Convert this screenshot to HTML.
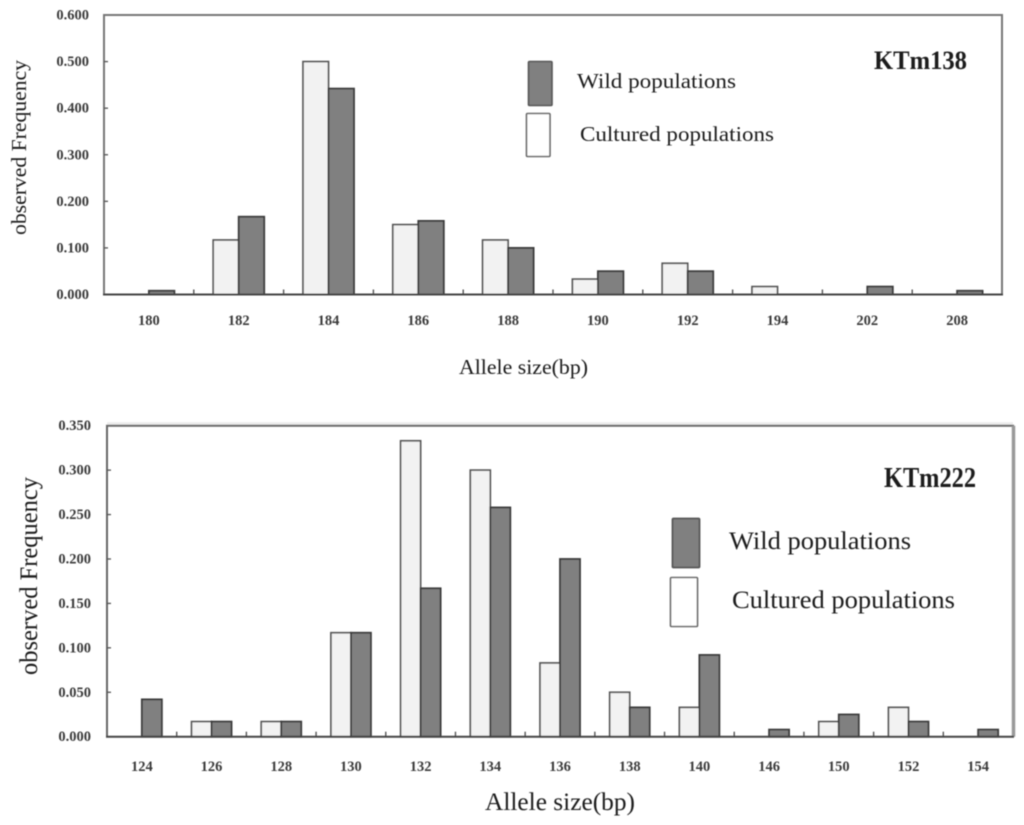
<!DOCTYPE html>
<html>
<head>
<meta charset="utf-8">
<title>Allele frequency charts</title>
<style>
html,body{margin:0;padding:0;background:#fff;width:1024px;height:825px;overflow:hidden}
svg{display:block;position:absolute;left:0;top:0}
text{font-family:"Liberation Serif",serif;fill:#222}
.tick{font-weight:bold;font-size:14.5px;fill:#3a3a3a}
.title{font-size:21.5px;fill:#1c1c1c}
.leg{font-size:21.5px;fill:#1c1c1c}
.big{font-size:25px}
.name{font-weight:bold;fill:#1c1c1c}
</style>
</head>
<body>
<svg id="fig" width="1024" height="825" viewBox="0 0 1024 825" xmlns="http://www.w3.org/2000/svg">
  <defs>
    <filter id="soft" x="-5%" y="-5%" width="110%" height="110%"><feGaussianBlur stdDeviation="0.45"/></filter>
    <filter id="soft2" x="-5%" y="-5%" width="110%" height="110%"><feGaussianBlur stdDeviation="0.6"/></filter>
  </defs>
  <g id="chart1" filter="url(#soft)">
    <text class="name" x="874" y="69" font-size="26" textLength="93" lengthAdjust="spacingAndGlyphs">KTm138</text>
    <rect x="528.5" y="61.5" width="23.5" height="44" rx="1" fill="#808080" stroke="#555" stroke-width="1.6"/>
    <rect x="526.5" y="113.5" width="23.5" height="43" rx="1" fill="#fff" stroke="#666" stroke-width="1.6"/>
    <text class="leg" x="577" y="88" textLength="159" lengthAdjust="spacingAndGlyphs">Wild populations</text>
    <text class="leg" x="580" y="141" textLength="194" lengthAdjust="spacingAndGlyphs">Cultured populations</text>
    <text class="title" x="459" y="374" textLength="129" lengthAdjust="spacingAndGlyphs">Allele size(bp)</text>
    <text class="title" transform="translate(26,235) rotate(-90)" textLength="175" lengthAdjust="spacingAndGlyphs">observed Frequency</text>
  </g>
  <g id="chart2" filter="url(#soft2)">
    <text class="name" x="884" y="487" font-size="29" textLength="92" lengthAdjust="spacingAndGlyphs">KTm222</text>
    <rect x="672.5" y="518.5" width="27" height="49" rx="1" fill="#808080" stroke="#555" stroke-width="1.8"/>
    <rect x="670.5" y="577.5" width="27" height="49" rx="1" fill="#fff" stroke="#666" stroke-width="1.6"/>
    <text class="leg big" x="729" y="549" textLength="182" lengthAdjust="spacingAndGlyphs">Wild populations</text>
    <text class="leg big" x="732" y="608" textLength="223" lengthAdjust="spacingAndGlyphs">Cultured populations</text>
    <text class="title big" x="485" y="810" textLength="150" lengthAdjust="spacingAndGlyphs">Allele size(bp)</text>
    <text class="title big" transform="translate(37,675) rotate(-90)" textLength="198" lengthAdjust="spacingAndGlyphs">observed Frequency</text>
  </g>
</svg>
<script>
var ktm138Categories = ["180","182","184","186","188","190","192","194","202","208"];
var ktm138Cultured = [0, 0.117, 0.5, 0.15, 0.117, 0.033, 0.067, 0.017, 0, 0];
var ktm138Wild = [0.008, 0.167, 0.442, 0.158, 0.1, 0.05, 0.05, 0, 0.017, 0.008];
var ktm138Ticks = ["0.000","0.100","0.200","0.300","0.400","0.500","0.600"];

var ktm222Categories = ["124","126","128","130","132","134","136","138","140","146","150","152","154"];
var ktm222Cultured = [0, 0.017, 0.017, 0.117, 0.333, 0.3, 0.083, 0.05, 0.033, 0, 0.017, 0.033, 0];
var ktm222Wild = [0.042, 0.017, 0.017, 0.117, 0.167, 0.258, 0.2, 0.033, 0.092, 0.008, 0.025, 0.017, 0.008];
var ktm222Ticks = ["0.000","0.050","0.100","0.150","0.200","0.250","0.300","0.350"];

var SVGNS = "http://www.w3.org/2000/svg";

function shape(parent, tag, props) {
  var el = document.createElementNS(SVGNS, tag);
  for (var k in props) {
    el.setAttribute(k, props[k]);
  }
  parent.appendChild(el);
  return el;
}

function drawChart(parent, cats, cultured, wild, ticks, o) {
  var band = (o.right - o.left) / cats.length;
  var yMax = parseFloat(ticks[ticks.length - 1]);
  function xBand(i) { return o.left + band * (i + 0.5); }
  function yVal(v) { return o.bottom - (v / yMax) * (o.bottom - o.top); }

  if (o.halo) {
    var halo = shape(parent, "rect", {x: o.left, y: o.top - 3.5, width: o.right - o.left, height: 3.5, fill: "#ececec"});
    
    
  }

  var frame = shape(parent, "path", {
    d: "M" + o.left + " " + o.bottom + "V" + o.top + "H" + o.right + "V" + o.bottom,
    fill: "none", stroke: o.frameColor, "stroke-width": 2
  });
  
  

  if (o.rightThick) {
    var rb = shape(parent, "line", {x1: o.right + 0.5, x2: o.right + 0.5, y1: o.top, y2: o.bottom, stroke: "#999", "stroke-width": 3.5});
    
    
  }

  ticks.forEach(function (t, i) {
    var y = yVal(parseFloat(t));
    var lab = shape(parent, "text", {x: o.left - o.labelGap, y: y + 4.5, "text-anchor": "end", "class": "tick"});
    lab.textContent = t;
    
    
    if (i > 0 && i < ticks.length - 1) {
      var tk = shape(parent, "line", {x1: o.left, x2: o.left + 4, y1: y, y2: y, stroke: "#555", "stroke-width": 1.3});
      
      
    }
  });

  cats.forEach(function (c, i) {
    var cx = xBand(i);
    if (i > 0) {
      var tk = shape(parent, "line", {x1: o.left + band * i, x2: o.left + band * i, y1: o.bottom, y2: o.bottom - 5, stroke: "#555", "stroke-width": 1.4});
      
      
    }
    var lab = shape(parent, "text", {x: cx, y: o.labelY, "text-anchor": "middle", "class": "tick"});
    lab.textContent = c;
    
    

    if (cultured[i] > 0) {
      var a = shape(parent, "rect", {
        x: cx - o.barW, y: yVal(cultured[i]), width: o.barW,
        height: Math.max(0, o.bottom - yVal(cultured[i])),
        fill: "#f2f2f2", stroke: "#555", "stroke-width": 1.7
      });
      
      
    }
    if (wild[i] > 0) {
      var b = shape(parent, "rect", {
        x: cx, y: yVal(wild[i]), width: o.barW,
        height: Math.max(0, o.bottom - yVal(wild[i])),
        fill: "#808080", stroke: "#3a3a3a", "stroke-width": 1.8
      });
      
      
    }
  });

  var base = shape(parent, "line", {x1: o.left - 1, x2: o.right + 1, y1: o.bottom, y2: o.bottom, stroke: "#444", "stroke-width": 2});
  
  
}

drawChart(document.getElementById("chart1"), ktm138Categories, ktm138Cultured, ktm138Wild, ktm138Ticks,
  {left: 104, right: 1002, top: 15, bottom: 294.5, barW: 25.5, labelY: 325, labelGap: 15, frameColor: "#777"});
drawChart(document.getElementById("chart2"), ktm222Categories, ktm222Cultured, ktm222Wild, ktm222Ticks,
  {left: 107, right: 1013, top: 425.7, bottom: 736.7, barW: 20, labelY: 771, labelGap: 16, frameColor: "#666", halo: true, rightThick: true});
</script>
</body>
</html>
